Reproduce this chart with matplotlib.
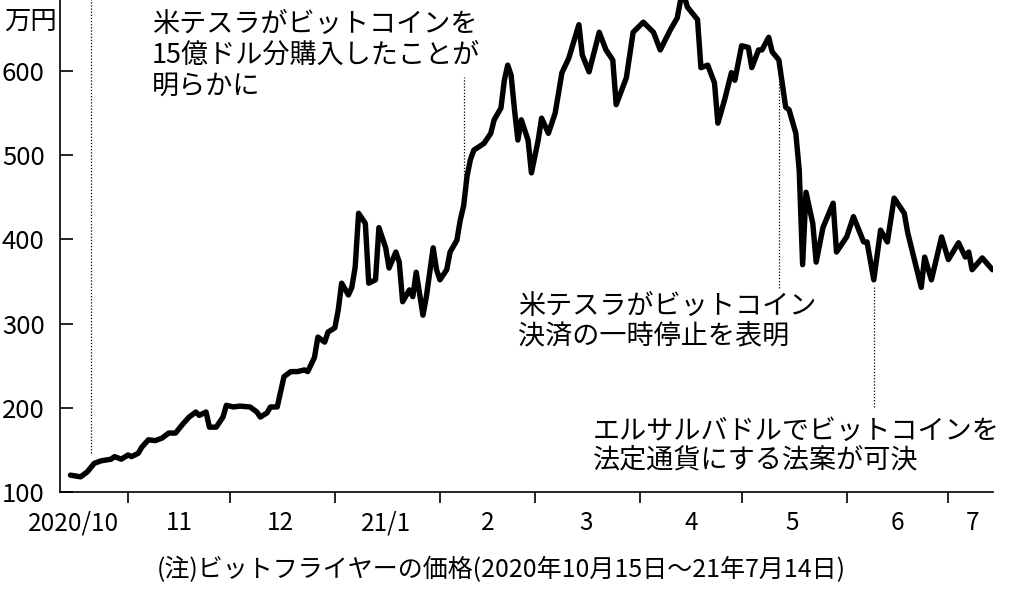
"""Bitcoin price (bitFlyer, 万円) Oct 2020 - Jul 2021, newspaper-style line chart."""
import matplotlib
matplotlib.use("Agg")
import matplotlib.pyplot as plt
import matplotlib.dates as mdates
from matplotlib import font_manager
import pandas as pd

W, H = 1024, 597
JP = "Noto Sans CJK JP"
_names = {f.name for f in font_manager.fontManager.ttflist}
# narrow face for the numbers if one is installed, otherwise the CJK gothic
NUM = next((n for n in ("Liberation Sans Narrow", "DejaVu Sans Condensed") if n in _names), JP)
NUM_SIZE = 22 if NUM == "Liberation Sans Narrow" else 18.5
XLAB_SIZE = 20 if NUM == "Liberation Sans Narrow" else 17.5

# ---- data ------------------------------------------------------------------
DATES = [
    "2020-10-15", "2020-10-18", "2020-10-20", "2020-10-22", "2020-10-24", "2020-10-27",
    "2020-10-28", "2020-10-30", "2020-11-01", "2020-11-02", "2020-11-04", "2020-11-05",
    "2020-11-07", "2020-11-09", "2020-11-11", "2020-11-13", "2020-11-15", "2020-11-17",
    "2020-11-19", "2020-11-21", "2020-11-22", "2020-11-24", "2020-11-25", "2020-11-27",
    "2020-11-29", "2020-11-30", "2020-12-02", "2020-12-04", "2020-12-07", "2020-12-09",
    "2020-12-10", "2020-12-12", "2020-12-13", "2020-12-15", "2020-12-17", "2020-12-19",
    "2020-12-21", "2020-12-23", "2020-12-24", "2020-12-26", "2020-12-27", "2020-12-29",
    "2020-12-30", "2021-01-01", "2021-01-02", "2021-01-03", "2021-01-05", "2021-01-06",
    "2021-01-07", "2021-01-08", "2021-01-10", "2021-01-11", "2021-01-13", "2021-01-14",
    "2021-01-16", "2021-01-17", "2021-01-19", "2021-01-20", "2021-01-21", "2021-01-23",
    "2021-01-24", "2021-01-25", "2021-01-27", "2021-01-28", "2021-01-30", "2021-01-31",
    "2021-02-01", "2021-02-03", "2021-02-04", "2021-02-06", "2021-02-07", "2021-02-08",
    "2021-02-09", "2021-02-10", "2021-02-11", "2021-02-14", "2021-02-16", "2021-02-17",
    "2021-02-19", "2021-02-20", "2021-02-21", "2021-02-22", "2021-02-23", "2021-02-24",
    "2021-02-25", "2021-02-27", "2021-02-28", "2021-03-02", "2021-03-03", "2021-03-05",
    "2021-03-07", "2021-03-09", "2021-03-11", "2021-03-14", "2021-03-15", "2021-03-17",
    "2021-03-20", "2021-03-22", "2021-03-24", "2021-03-25", "2021-03-28", "2021-03-30",
    "2021-04-02", "2021-04-05", "2021-04-07", "2021-04-10", "2021-04-12", "2021-04-13",
    "2021-04-14", "2021-04-15", "2021-04-17", "2021-04-18", "2021-04-19", "2021-04-21",
    "2021-04-23", "2021-04-24", "2021-04-26", "2021-04-28", "2021-04-29", "2021-05-01",
    "2021-05-03", "2021-05-04", "2021-05-06", "2021-05-07", "2021-05-09", "2021-05-10",
    "2021-05-12", "2021-05-14", "2021-05-15", "2021-05-17", "2021-05-18", "2021-05-19",
    "2021-05-20", "2021-05-22", "2021-05-23", "2021-05-25", "2021-05-28", "2021-05-29",
    "2021-06-01", "2021-06-03", "2021-06-06", "2021-06-07", "2021-06-09", "2021-06-11",
    "2021-06-13", "2021-06-15", "2021-06-18", "2021-06-19", "2021-06-23", "2021-06-24",
    "2021-06-26", "2021-06-29", "2021-07-01", "2021-07-04", "2021-07-06", "2021-07-07",
    "2021-07-08", "2021-07-11", "2021-07-14",
]
PRICE = [
    120, 118, 124, 134, 137, 139,
    142, 139, 144, 142, 146, 153,
    162, 161, 164, 170, 170, 180,
    189, 195, 191, 195, 177, 177,
    189, 203, 201, 202, 201, 195,
    189, 194, 201, 201, 237, 243,
    243, 245, 243, 260, 284, 278,
    290, 295, 316, 348, 334, 343,
    367, 431, 419, 348, 352, 414,
    390, 366, 385, 373, 326, 340,
    332, 361, 310, 332, 390, 364,
    352, 364, 385, 399, 423, 440,
    475, 495, 506, 514, 526, 542,
    556, 589, 607, 595, 554, 518,
    542, 518, 479, 518, 544, 526,
    550, 598, 615, 655, 619, 599,
    646, 625, 613, 560, 592, 646,
    658, 646, 625, 649, 663, 684,
    690, 676, 666, 661, 604, 607,
    586, 538, 566, 598, 589, 630,
    628, 604, 625, 625, 640, 623,
    613, 557, 554, 526, 482, 370,
    456, 419, 373, 414, 443, 385,
    403, 427, 397, 397, 352, 411,
    397, 449, 431, 408, 343, 379,
    352, 403, 376, 396, 379, 385,
    364, 378, 364,
]

Y_TICKS = [100, 200, 300, 400, 500, 600]
LABEL_DATES = ["2020-10-16", "2020-11-16", "2020-12-16", "2021-01-16", "2021-02-15",
               "2021-03-16", "2021-04-16", "2021-05-16", "2021-06-16", "2021-07-08"]
LABELS = ["2020/10", "11", "12", "21/1", "2", "3", "4", "5", "6", "7"]

# dotted event markers: date, lower / upper end (万円)
EVENT_DATES = ["2020-10-21", "2021-02-08", "2021-05-12", "2021-06-09"]
EVENT_LO = [146, 440, 342, 201]
EVENT_HI = [690, 593, 598, 346]

NOTE_1 = ["米テスラがビットコインを", "15億ドル分購入したことが", "明らかに"]
NOTE_2 = ["米テスラがビットコイン", "決済の一時停止を表明"]
NOTE_3 = ["エルサルバドルでビットコインを", "法定通貨にする法案が可決"]
FOOTNOTE = "(注)ビットフライヤーの価格(2020年10月15日～21年7月14日)"


def ptext(fig, x, y, s, size, family=JP, ha="left"):
    """Place text by pixel position (x from left, y from top, vertical centre)."""
    fig.text(x / W, 1 - y / H, s, fontsize=size, family=[family, "DejaVu Sans"],
             ha=ha, va="center", color="black")


def main():
    dates = pd.to_datetime(DATES)
    fig = plt.figure(figsize=(W / 100, H / 100), dpi=100)
    ax = fig.add_axes([60 / W, 105 / H, 933 / W, 492 / H])

    ax.plot(dates, PRICE, color="black", lw=3.9, solid_joinstyle="round",
            solid_capstyle="round", zorder=3)

    for d, lo, hi in zip(EVENT_DATES, EVENT_LO, EVENT_HI):
        ax.vlines(pd.Timestamp(d), lo, hi, colors="black", linestyles=(0, (1, 1.5)),
                  lw=0.9, zorder=2)

    ax.set_ylim(100, 100 + 492 / 0.842)
    ax.set_xlim(pd.Timestamp("2020-10-11 22:00"), pd.Timestamp("2021-07-14 04:00"))

    for s in ("top", "right"):
        ax.spines[s].set_visible(False)
    for s in ("left", "bottom"):
        ax.spines[s].set_linewidth(1.2)

    ax.set_yticks(Y_TICKS)
    ax.set_yticklabels([str(v) for v in Y_TICKS], family=[NUM, JP], fontsize=NUM_SIZE)
    ax.tick_params(axis="y", direction="in", length=9.5, width=1.2, pad=11)

    ax.set_xticks(pd.date_range("2020-11-01", "2021-07-01", freq="MS"))
    ax.tick_params(axis="x", which="major", direction="out", length=8, width=1.2,
                   labelbottom=False)
    ax.set_xticks(pd.to_datetime(LABEL_DATES), minor=True)
    ax.set_xticklabels(LABELS, minor=True, family=[NUM, JP], fontsize=XLAB_SIZE)
    ax.tick_params(axis="x", which="minor", length=0, pad=13)
    ax.xaxis.set_major_formatter(mdates.DateFormatter(""))

    ptext(fig, 4, 21, "万円", 19)
    for i, line in enumerate(NOTE_1):
        ptext(fig, 152, 24 + 31 * i, line, 19.5)
    for i, line in enumerate(NOTE_2):
        ptext(fig, 518, 306 + 30 * i, line, 19.5)
    for i, line in enumerate(NOTE_3):
        ptext(fig, 593, 431 + 29 * i, line, 19.5)
    ptext(fig, 157, 570, FOOTNOTE, 18)

    fig.savefig("out.png", dpi=100)


if __name__ == "__main__":
    main()
